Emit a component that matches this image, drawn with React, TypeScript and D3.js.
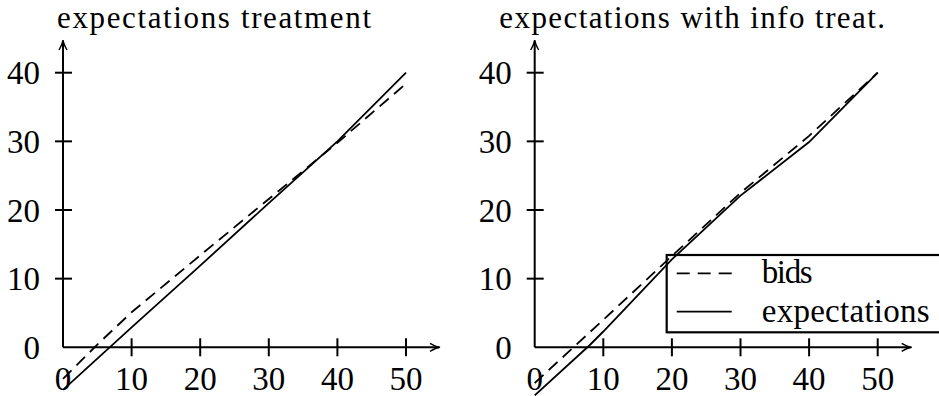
import React from "react";
import * as d3 from "d3";

const W = 939;
const H = 396;

const xTicks = [0, 10, 20, 30, 40, 50];
const yTicks = [0, 10, 20, 30, 40];

const titles = ["expectations treatment", "expectations with info treat."];
const legendLabels = ["bids", "expectations"];

const leftBidsX = [0, 5, 10, 20, 30, 40, 50];
const leftBidsY = [-4.6, 0.4, 5.1, 13.4, 21.6, 29.8, 38.4];
const leftExpX = [0, 10, 20, 30, 40, 50];
const leftExpY = [-6.2, 2.9, 11.9, 21.0, 30.0, 40.0];

const rightBidsX = [0, 10, 20, 30, 40, 50];
const rightBidsY = [-5.2, 4.0, 13.3, 22.5, 30.8, 40.0];
const rightExpX = [0, 8, 10, 20, 30, 40, 50];
const rightExpY = [-7.0, 0.3, 2.3, 12.8, 22.1, 29.9, 40.0];

const FONT = "'Liberation Serif', 'Times New Roman', serif";
const FS = 33;
const TFS = 31;

type PanelProps = {
  x0: number;
  title: string;
  titleX: number;
  titleLen: number;
  bidsX: number[];
  bidsY: number[];
  expX: number[];
  expY: number[];
  legend?: boolean;
};

function Arrow({ x, y, dir }: { x: number; y: number; dir: "right" | "up" }) {
  const d = "M-10,-4 Q-4,-0.6 0,0 Q-4,0.6 -10,4";
  const rot = dir === "right" ? 0 : -90;
  return (
    <path
      d={d}
      transform={`translate(${x},${y}) rotate(${rot})`}
      fill="none"
      stroke="#000"
      strokeWidth={1.5}
    />
  );
}

function Panel(p: PanelProps) {
  const x = d3.scaleLinear().domain([0, 50]).range([p.x0, p.x0 + 343]);
  const y = d3.scaleLinear().domain([0, 40]).range([347.3, 72.7]);
  const line = d3
    .line<[number, number]>()
    .x((d) => x(d[0]))
    .y((d) => y(d[1]));
  const bids = p.bidsX.map((v, i) => [v, p.bidsY[i]] as [number, number]);
  const exp = p.expX.map((v, i) => [v, p.expY[i]] as [number, number]);
  const ax = x(0);
  const ay = y(0);
  const arrowX = x(0) + 377;
  const arrowY = 40;
  return (
    <g>
      <text
        x={p.titleX}
        y={28}
        fontFamily={FONT}
        fontSize={TFS}
        textLength={p.titleLen}
        lengthAdjust="spacing"
      >
        {p.title}
      </text>
      <line x1={ax} y1={ay} x2={arrowX - 1} y2={ay} stroke="#000" strokeWidth={2} />
      <line x1={ax} y1={ay} x2={ax} y2={arrowY + 1} stroke="#000" strokeWidth={2} />
      <Arrow x={arrowX} y={ay} dir="right" />
      <Arrow x={ax} y={arrowY} dir="up" />
      {xTicks
        .filter((t) => t !== 0)
        .map((t) => (
          <line key={"xt" + t} x1={x(t)} x2={x(t)} y1={ay - 9} y2={ay + 9} stroke="#000" strokeWidth={2} />
        ))}
      {yTicks
        .filter((t) => t !== 0)
        .map((t) => (
          <line key={"yt" + t} x1={ax - 8} x2={ax + 9} y1={y(t)} y2={y(t)} stroke="#000" strokeWidth={2} />
        ))}
      {xTicks.map((t) => (
        <text
          key={"xl" + t}
          x={x(t)}
          y={390}
          textAnchor="middle"
          fontFamily={FONT}
          fontSize={FS}
        >
          {t}
        </text>
      ))}
      {yTicks.map((t) => (
        <text
          key={"yl" + t}
          x={ax - 23}
          y={y(t) + 11.5}
          textAnchor="end"
          fontFamily={FONT}
          fontSize={FS}
        >
          {t}
        </text>
      ))}
      <path d={line(bids) || ""} fill="none" stroke="#000" strokeWidth={1.8} strokeDasharray="12 7" />
      <path d={line(exp) || ""} fill="none" stroke="#000" strokeWidth={1.8} />
      {p.legend && (
        <g>
          <rect x={666.7} y={255} width={300} height={77.3} fill="none" stroke="#000" strokeWidth={2.2} />
          <line x1={676.7} x2={731.7} y1={273.3} y2={273.3} stroke="#000" strokeWidth={1.8} strokeDasharray="13 8" />
          <line x1={676.7} x2={731.7} y1={311.7} y2={311.7} stroke="#000" strokeWidth={1.8} />
          <text x={761.7} y={283} fontFamily={FONT} fontSize={FS} textLength={51} lengthAdjust="spacing">
            {legendLabels[0]}
          </text>
          <text x={761.7} y={321.7} fontFamily={FONT} fontSize={FS} textLength={168} lengthAdjust="spacing">
            {legendLabels[1]}
          </text>
        </g>
      )}
    </g>
  );
}

export default function App() {
  return (
    <svg
      width={W}
      height={H}
      viewBox={`0 0 ${W} ${H}`}
      style={{ position: "absolute", left: 0, top: 0, background: "#fff" }}
    >
      <rect x={0} y={0} width={W} height={H} fill="#fff" />
      <Panel
        x0={63}
        title={titles[0]}
        titleX={57}
        titleLen={314}
        bidsX={leftBidsX}
        bidsY={leftBidsY}
        expX={leftExpX}
        expY={leftExpY}
      />
      <Panel
        x0={534.7}
        title={titles[1]}
        titleX={499.3}
        titleLen={385.7}
        bidsX={rightBidsX}
        bidsY={rightBidsY}
        expX={rightExpX}
        expY={rightExpY}
        legend
      />
    </svg>
  );
}
